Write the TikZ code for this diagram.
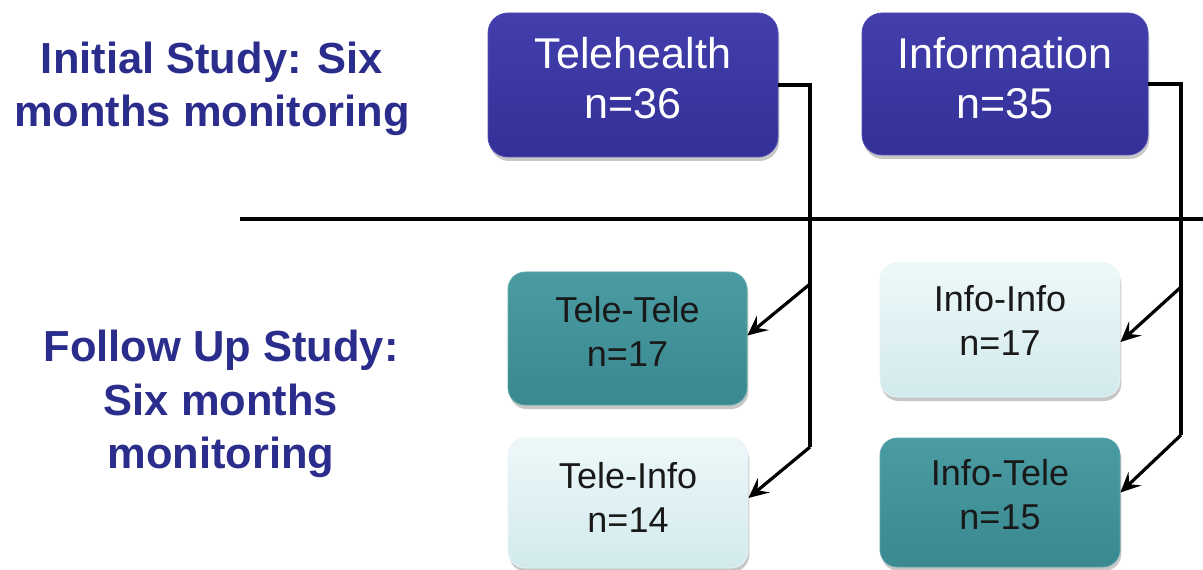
\documentclass[tikz,border=0pt]{standalone}
\usepackage{fontspec}
\setmainfont{Liberation Sans}
\usetikzlibrary{arrows.meta,calc,shadows}

\definecolor{navytext}{RGB}{43,45,140}
\definecolor{navytop}{RGB}{66,62,172}
\definecolor{navybot}{RGB}{52,48,152}
\definecolor{navyedge}{RGB}{80,78,182}
\definecolor{tealtop}{RGB}{74,156,162}
\definecolor{tealbot}{RGB}{58,136,144}
\definecolor{tealedge}{RGB}{90,166,172}
\definecolor{palettop}{RGB}{238,248,249}
\definecolor{palebot}{RGB}{210,234,237}
\definecolor{paleedge}{RGB}{232,244,246}

\tikzset{
  heading/.style={font=\bfseries\fontsize{32.6pt}{40pt}\selectfont, text=navytext, align=center, inner sep=0pt},
  boxshadow/.style={drop shadow={shadow xshift=1pt, shadow yshift=-3pt, opacity=0.22, fill=black}},
  groupbox/.style={rectangle, rounded corners=15pt, top color=navytop, bottom color=navybot,
    draw=navyedge, line width=0.6pt, boxshadow, inner sep=0pt,
    minimum width={290*0.75pt}, minimum height={144*0.75pt}},
  grouptext/.style={font=\fontsize{32.3pt}{38pt}\selectfont, text=white, align=center, inner sep=0pt},
  armteal/.style={rectangle, rounded corners=13pt, top color=tealtop, bottom color=tealbot,
    draw=tealedge, line width=0.6pt, boxshadow, inner sep=0pt},
  armpale/.style={rectangle, rounded corners=13pt, top color=palettop, bottom color=palebot,
    draw=paleedge, line width=0.6pt, boxshadow, inner sep=0pt},
  armtext/.style={font=\fontsize{27pt}{33pt}\selectfont, text=black!90, align=center, inner sep=0pt},
  conn/.style={draw=black, line width=2.4pt},
  arr/.style={conn, -{Stealth[length=15pt, width=14pt, inset=6pt]}},
}

\begin{document}
\begin{tikzpicture}[x=0.75pt, y=-0.75pt]
\useasboundingbox (0,0) rectangle (1203,570);

% row headings
\node[heading] (initial) at (212,89) {Initial Study: Six\\months monitoring};
\node[heading] (followup) at (221,404) {Follow Up Study:\\Six months\\monitoring};

% divider between the two study phases
\coordinate (divL) at (240,219);
\coordinate (divR) at (1203,219);
\draw[conn] (divL) -- (divR);

% initial groups
\node[groupbox] (tele) at (633,85) {};
\node[grouptext] (teletxt) at (633,78) {Telehealth\\n=36};
\node[groupbox, minimum width={286*0.75pt}, minimum height={142*0.75pt}] (info) at (1005,84) {};
\node[grouptext] (infotxt) at (1005,78) {Information\\n=35};

% follow-up arms
\node[armteal, minimum width={239*0.75pt}, minimum height={133*0.75pt}] (tt) at (627.5,338.5) {};
\node[armtext] (tttxt) at (627.5,331) {Tele-Tele\\n=17};
\node[armpale, minimum width={240*0.75pt}, minimum height={130*0.75pt}] (ti) at (628,503) {};
\node[armtext] (titxt) at (628,497) {Tele-Info\\n=14};
\node[armpale, minimum width={240*0.75pt}, minimum height={134*0.75pt}] (ii) at (1000,330) {};
\node[armtext] (iitxt) at (1000,320) {Info-Info\\n=17};
\node[armteal, minimum width={240*0.75pt}, minimum height={129*0.75pt}] (it) at (1000,502.5) {};
\node[armtext] (ittxt) at (1000,495) {Info-Tele\\n=15};

% branch points
\coordinate (tmid) at (810,284);
\coordinate (tlow) at (810,447);
\coordinate (imid) at (1181,287);
\coordinate (ilow) at (1181,435);

% connectors
\draw[conn] (tele.east) -| (tlow);
\draw[arr] (tmid) -- ($(tt.east)+(0,-3)$);
\draw[arr] (tlow) -- ($(ti.east)+(0,-5)$);
\draw[conn] (info.east) -| (ilow);
\draw[arr] (imid) -- ($(ii.east)+(0,12)$);
\draw[arr] (ilow) -- ($(it.east)+(0,-10)$);
\end{tikzpicture}
\end{document}
